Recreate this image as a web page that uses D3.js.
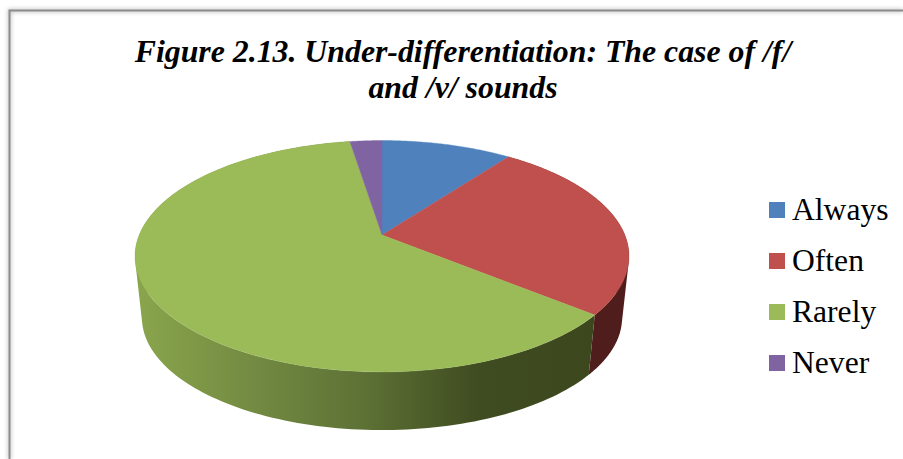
<!DOCTYPE html>
<html>
<head>
<meta charset="utf-8">
<script src="https://cdn.jsdelivr.net/npm/d3@7"></script>
<style>
  html, body { margin: 0; padding: 0; background: #fff; overflow: hidden; }
  text { font-family: "Liberation Serif", "Times New Roman", serif; fill: #000; }
</style>
</head>
<body>
<svg id="chart" width="903" height="459"></svg>
<script>
// Response shares, in percent
const categories = ["Always", "Often", "Rarely", "Never"];
const shares = [10.2, 25.7, 61.6, 2.5];
const topColors = ["#4f81bd", "#c0504d", "#9bbb59", "#8064a2"];
const wallColors = ["#2a4566", "#4e1d1c", "url(#rarelyWall)", "#453457"];
const titleLines = ["Figure 2.13. Under-differentiation: The case of /f/", "and /v/ sounds"];

const svg = d3.select("#chart");
const defs = svg.append("defs");

// Soft shadow outside the frame
const soft = defs.append("filter").attr("id", "frameShadow")
  .attr("x", "-5%").attr("y", "-5%").attr("width", "110%").attr("height", "110%");
soft.append("feGaussianBlur").attr("stdDeviation", 2);

// The front wall darkens from left to right
const wallGrad = defs.append("linearGradient").attr("id", "rarelyWall")
  .attr("gradientUnits", "userSpaceOnUse")
  .attr("x1", 135).attr("x2", 595).attr("y1", 0).attr("y2", 0);
[[0, "#8aa64c"], [0.25, "#738b42"], [0.5, "#5d7135"], [0.75, "#3f4b20"], [1, "#3c471d"]]
  .forEach(([o, c]) => wallGrad.append("stop").attr("offset", o).attr("stop-color", c));

// Frame: left and top edges, running off the right and bottom of the page
const framePath = "M9.5,459V10.5H903";
svg.append("path").attr("d", framePath).attr("fill", "none")
  .attr("stroke", "#bbb").attr("stroke-width", 3).attr("filter", "url(#frameShadow)");
svg.append("path").attr("d", framePath).attr("fill", "none")
  .attr("stroke", "#8c8c8c").attr("stroke-width", 2);

// Title
svg.append("g").selectAll("text").data(titleLines).join("text")
  .attr("x", 463).attr("y", (d, i) => 62 + i * 36)
  .attr("text-anchor", "middle")
  .attr("font-size", 31.8).attr("font-weight", "bold").attr("font-style", "italic")
  .text(d => d);

// Perspective view of the disc: the near side is magnified, so the apex sits
// above the centre of the drawn ellipse.
const cx = 382, apexY = 235, radiusX = 242.8, radiusY = 111.8, tilt = -0.1834;
const depth = 62, floorScale = 0.972;

function project(angle, scale, drop) {
  const u = Math.sin(angle), v = -Math.cos(angle), w = 1 + tilt * v;
  return [cx + scale * radiusX * u / w, apexY + drop + scale * radiusY * v / w];
}
const rimPoint = a => project(a, 1, 0);
const floorPoint = a => project(a, floorScale, depth);

const pie = d3.pie().sort(null).value(d => d)(shares);
const line = d3.line();
const samples = (a0, a1, n) => d3.range(0, n + 1).map(i => a0 + (a1 - a0) * i / n);

// One wall path per slice, made of narrow quads wound the same way so that
// they merge without seams and the outline follows the disc's silhouette.
// The top face covers whatever lies behind it.
function wallPath(slice) {
  return d3.pairs(samples(slice.startAngle, slice.endAngle, 160)).map(([a, b]) => {
    const quad = [rimPoint(a), rimPoint(b), floorPoint(b), floorPoint(a)];
    if (d3.polygonArea(quad) < 0) quad.reverse();
    return line(quad) + "Z";
  }).join("");
}
svg.append("g").selectAll("path").data([1, 2]).join("path")
  .attr("d", i => wallPath(pie[i]))
  .attr("fill", i => wallColors[i]);

// Top face
svg.append("g").selectAll("path").data(pie).join("path")
  .attr("d", d => line([[cx, apexY]].concat(samples(d.startAngle, d.endAngle, 80).map(rimPoint))) + "Z")
  .attr("fill", (d, i) => topColors[i])
  .attr("stroke", (d, i) => topColors[i]).attr("stroke-width", 0.4);

// Legend
const legendY = d3.scalePoint().domain(categories).range([210, 363]);
const legend = svg.append("g").selectAll("g").data(categories).join("g")
  .attr("transform", d => `translate(0,${legendY(d)})`);
legend.append("rect")
  .attr("x", 769).attr("y", -8).attr("width", 16).attr("height", 16)
  .attr("fill", (d, i) => topColors[i]);
legend.append("text")
  .attr("x", 792).attr("y", 10)
  .attr("font-size", 31.6)
  .text(d => d);
</script>
</body>
</html>
